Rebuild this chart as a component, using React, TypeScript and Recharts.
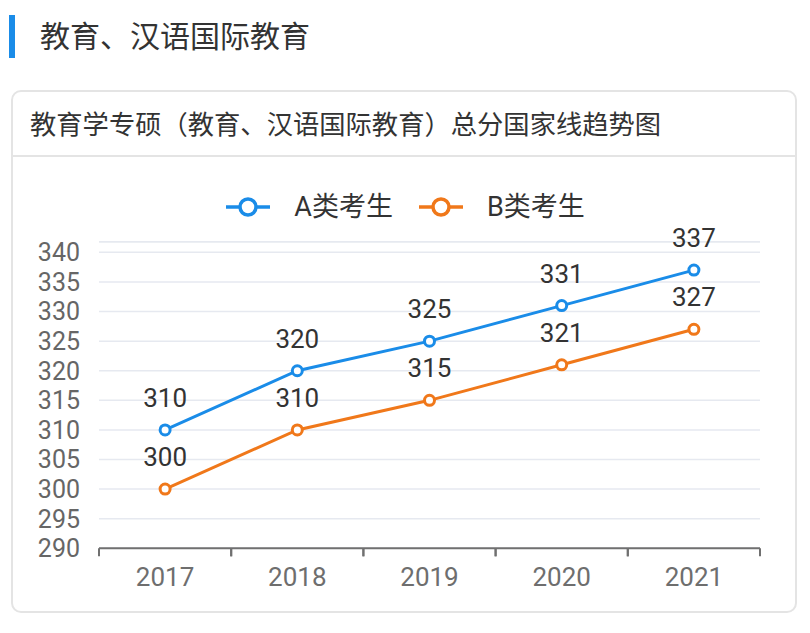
import { LineChart, Line, XAxis, YAxis, CartesianGrid, ReferenceLine, LabelList } from "recharts";

const years = ["2017", "2018", "2019", "2020", "2021"];
const scoresA = [310, 320, 325, 331, 337];
const scoresB = [300, 310, 315, 321, 327];
const yTicks = [290, 295, 300, 305, 310, 315, 320, 325, 330, 335, 340];
const yMax = 341.8;
const seriesNames = ["A类考生", "B类考生"];
const seriesColors = ["#1a8ce8", "#f0781a"];

const data = years.map((year, i) => ({ year, a: scoresA[i], b: scoresB[i] }));

const FONT = "Roboto, 'Noto Sans CJK SC', sans-serif";
const HALF_BAND = 66.1;

function YearTick(props: any) {
  const { x, y, payload } = props;
  return (
    <g>
      <line x1={x - HALF_BAND} y1={y} x2={x - HALF_BAND} y2={y + 8} stroke="#707070" strokeWidth={2} />
      <line x1={x + HALF_BAND} y1={y} x2={x + HALF_BAND} y2={y + 8} stroke="#707070" strokeWidth={2} />
      <text x={x} y={y + 38} textAnchor="middle" fill="#6e6e6e" fontSize={26} fontFamily={FONT}>
        {payload.value}
      </text>
    </g>
  );
}

function PointLabel(props: any) {
  const { x, y, value } = props;
  return (
    <text x={x} y={y - 23} textAnchor="middle" fill="#333" fontSize={26} fontFamily={FONT}>
      {value}
    </text>
  );
}

function LegendIcon({ color }: { color: string }) {
  return (
    <svg width={46} height={22} style={{ display: "block" }}>
      <line x1={1} y1={11} x2={45} y2={11} stroke={color} strokeWidth={3.5} />
      <circle cx={23} cy={11} r={8} fill="#fff" stroke={color} strokeWidth={3.5} />
    </svg>
  );
}

export default function App() {
  return (
    <div
      style={{
        position: "absolute",
        left: 0,
        top: 0,
        width: 810,
        height: 633,
        background: "#fff",
        fontFamily: FONT,
        overflow: "hidden",
      }}
    >
      <div style={{ position: "absolute", left: 9, top: 15, width: 6, height: 43, background: "#1a8ce8" }} />
      <div
        style={{
          position: "absolute",
          left: 40,
          top: 17,
          fontSize: 30,
          lineHeight: "40px",
          color: "#333",
        }}
      >
        教育、汉语国际教育
      </div>

      <div
        style={{
          position: "absolute",
          left: 11,
          top: 90,
          width: 782,
          height: 519,
          border: "2px solid #e4e4e4",
          borderRadius: 10,
        }}
      />
      <div style={{ position: "absolute", left: 13, top: 155, width: 782, height: 2, background: "#e4e4e4" }} />
      <div
        style={{
          position: "absolute",
          left: 30,
          top: 106,
          fontSize: 26.3,
          lineHeight: "38px",
          color: "#333",
        }}
      >
        教育学专硕（教育、汉语国际教育）总分国家线趋势图
      </div>

      <div
        style={{
          position: "absolute",
          left: 0,
          top: 190,
          width: 810,
          display: "flex",
          justifyContent: "center",
          alignItems: "center",
        }}
      >
        {seriesNames.map((name, i) => (
          <div key={name} style={{ display: "flex", alignItems: "center", marginLeft: i ? 25 : 0 }}>
            <LegendIcon color={seriesColors[i]} />
            <span style={{ marginLeft: 23, fontSize: 27, lineHeight: "34px", color: "#333" }}>{name}</span>
          </div>
        ))}
      </div>

      <div style={{ position: "absolute", left: 0, top: 0 }}>
        <LineChart
          width={810}
          height={633}
          data={data}
          margin={{ top: 241.7, right: 50, bottom: 24.7, left: 0 }}
        >
          <CartesianGrid vertical={false} stroke="#e6e9f0" strokeWidth={1.5} />
          <ReferenceLine y={yMax} stroke="#e6e9f0" strokeWidth={1.5} />
          <XAxis
            dataKey="year"
            height={60}
            padding={{ left: HALF_BAND, right: HALF_BAND }}
            axisLine={{ stroke: "#707070", strokeWidth: 2 }}
            tickLine={false}
            tickSize={0}
            tickMargin={0}
            tick={<YearTick />}
            interval={0}
          />
          <YAxis
            width={99}
            domain={[290, yMax]}
            ticks={yTicks}
            axisLine={false}
            tickLine={false}
            tickSize={0}
            tickMargin={19}
            tick={{ fill: "#666", fontSize: 25, fontFamily: FONT }}
            interval={0}
          />
          <Line
            dataKey="a"
            name={seriesNames[0]}
            stroke={seriesColors[0]}
            strokeWidth={3}
            dot={{ r: 5, fill: "#fff", stroke: seriesColors[0], strokeWidth: 3 }}
            activeDot={false}
            isAnimationActive={false}
          >
            <LabelList dataKey="a" content={<PointLabel />} />
          </Line>
          <Line
            dataKey="b"
            name={seriesNames[1]}
            stroke={seriesColors[1]}
            strokeWidth={3}
            dot={{ r: 5, fill: "#fff", stroke: seriesColors[1], strokeWidth: 3 }}
            activeDot={false}
            isAnimationActive={false}
          >
            <LabelList dataKey="b" content={<PointLabel />} />
          </Line>
        </LineChart>
      </div>
    </div>
  );
}
